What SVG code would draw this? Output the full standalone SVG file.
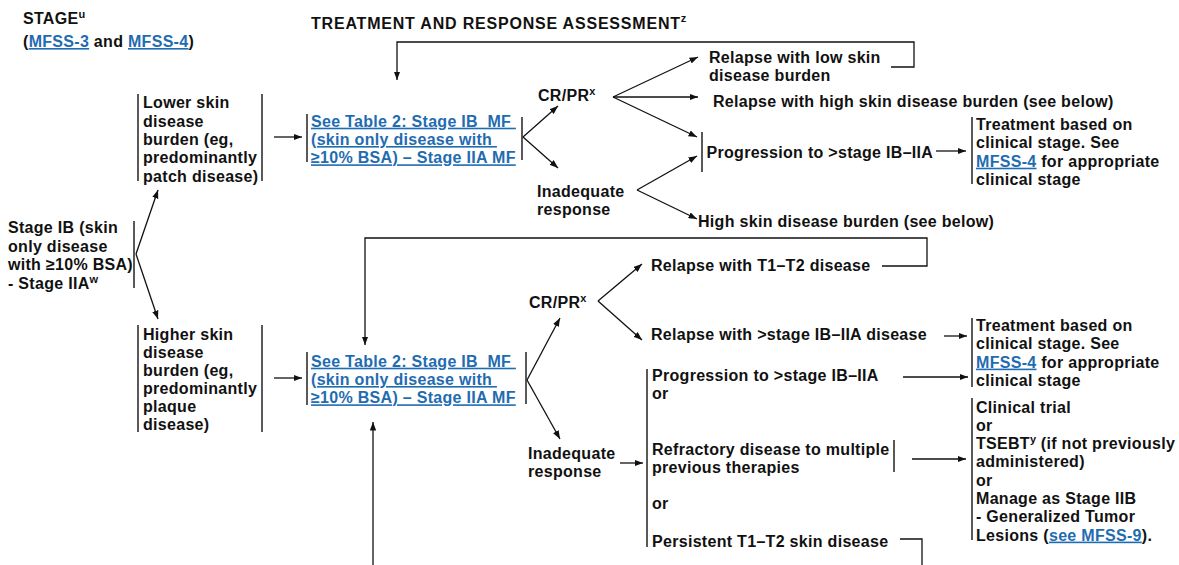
<svg xmlns="http://www.w3.org/2000/svg" width="1179" height="565" viewBox="0 0 1179 565">
<style>
text{font-family:"Liberation Sans",Arial,Helvetica,sans-serif;font-weight:bold;font-size:16px;letter-spacing:0.3px;fill:#111;white-space:pre}
.h{font-size:16px;letter-spacing:0.8px}
.lk{fill:#1f6cb0;text-decoration:underline}
.sup{font-size:11px;letter-spacing:0}
.bar{stroke:#222;stroke-width:1.5;fill:none}
.c{stroke:#111;stroke-width:1.3;fill:none}
</style>
<defs>
<marker id="a" viewBox="0 0 8 6" refX="8" refY="3" markerWidth="8.5" markerHeight="6.5" markerUnits="userSpaceOnUse" orient="auto"><path d="M0,0L8,3L0,6z" fill="#111"/></marker>
</defs>
<rect width="1179" height="565" fill="#fff"/>

<g id="hdr-stage">
<text x="23" y="24">STAGE<tspan class="sup" dy="-6">u</tspan></text>
<text x="23" y="47">(<tspan class="lk">MFSS-3</tspan> and <tspan class="lk">MFSS-4</tspan>)</text>
</g>
<g id="hdr-treatment">
<text class="h" x="311" y="29">TREATMENT AND RESPONSE ASSESSMENT<tspan class="sup" dy="-7">z</tspan></text>
</g>

<g id="n-stage">
<line class="bar" x1="134" y1="221" x2="134" y2="288"/>
<text x="8" y="233">Stage IB (skin</text>
<text x="8" y="251.5">only disease</text>
<text x="8" y="270">with ≥10% BSA)</text>
<text x="8" y="288.5">- Stage IIA<tspan class="sup" dy="-6">w</tspan></text>
</g>

<g id="n-lower">
<line class="bar" x1="138" y1="94" x2="138" y2="181"/>
<line class="bar" x1="262" y1="94" x2="262" y2="181"/>
<text x="143" y="108.3">Lower skin</text>
<text x="143" y="126.6">disease</text>
<text x="143" y="144.9">burden (eg,</text>
<text x="143" y="163.2">predominantly</text>
<text x="143" y="181.5">patch disease)</text>
</g>

<g id="n-higher">
<line class="bar" x1="138" y1="325" x2="138" y2="432"/>
<line class="bar" x1="262" y1="325" x2="262" y2="432"/>
<text x="143" y="340">Higher skin</text>
<text x="143" y="358">disease</text>
<text x="143" y="376">burden (eg,</text>
<text x="143" y="394">predominantly</text>
<text x="143" y="412">plaque</text>
<text x="143" y="430">disease)</text>
</g>

<g id="n-table1">
<line class="bar" x1="307" y1="114" x2="307" y2="162"/>
<line class="bar" x1="522" y1="117" x2="522" y2="160"/>
<text x="311" y="126.7" class="lk">See Table 2: Stage IB  MF </text>
<text x="311" y="145" class="lk">(skin only disease with </text>
<text x="311" y="163.3" class="lk">≥10% BSA) – Stage IIA MF</text>
</g>

<g id="n-table2">
<line class="bar" x1="307" y1="352" x2="307" y2="405"/>
<line class="bar" x1="526" y1="352" x2="526" y2="404"/>
<text x="311" y="366.7" class="lk">See Table 2: Stage IB  MF </text>
<text x="311" y="385" class="lk">(skin only disease with </text>
<text x="311" y="403.3" class="lk">≥10% BSA) – Stage IIA MF</text>
</g>

<g id="n-crpr1"><text x="538" y="101">CR/PR<tspan class="sup" dy="-6">x</tspan></text></g>
<g id="n-inad1">
<text x="537" y="196.7">Inadequate</text>
<text x="537" y="215">response</text>
</g>
<g id="n-relapse-low">
<text x="709" y="63">Relapse with low skin</text>
<text x="709" y="81">disease burden</text>
</g>
<g id="n-relapse-high"><text x="713" y="107.4">Relapse with high skin disease burden (see below)</text></g>
<g id="n-prog1">
<line class="bar" x1="702" y1="132" x2="702" y2="172"/>
<text x="706.5" y="157.5">Progression to &gt;stage IB–IIA</text>
</g>
<g id="n-treat1">
<line class="bar" x1="972" y1="117" x2="972" y2="184"/>
<text x="976" y="130">Treatment based on</text>
<text x="976" y="148.4">clinical stage. See</text>
<text x="976" y="166.7"><tspan class="lk">MFSS-4</tspan> for appropriate</text>
<text x="976" y="185">clinical stage</text>
</g>
<g id="n-high"><text x="698" y="226.7">High skin disease burden (see below)</text></g>

<g id="n-crpr2"><text x="529" y="308">CR/PR<tspan class="sup" dy="-6">x</tspan></text></g>
<g id="n-inad2">
<text x="528" y="458.6">Inadequate</text>
<text x="528" y="477">response</text>
</g>
<g id="n-relapse-t1"><text x="651" y="271">Relapse with T1–T2 disease</text></g>
<g id="n-relapse-stage"><text x="651" y="340">Relapse with &gt;stage IB–IIA disease</text></g>
<g id="n-treat2">
<line class="bar" x1="972" y1="318" x2="972" y2="387"/>
<text x="976" y="331">Treatment based on</text>
<text x="976" y="349.3">clinical stage. See</text>
<text x="976" y="367.6"><tspan class="lk">MFSS-4</tspan> for appropriate</text>
<text x="976" y="386">clinical stage</text>
</g>
<g id="n-options">
<line class="bar" x1="647" y1="369" x2="647" y2="547"/>
<line class="bar" x1="894" y1="440" x2="894" y2="472"/>
<text x="652" y="380.5">Progression to &gt;stage IB–IIA</text>
<text x="652" y="398.5">or</text>
<text x="652" y="455">Refractory disease to multiple</text>
<text x="652" y="473">previous therapies</text>
<text x="652" y="509.3">or</text>
<text x="652" y="546.5">Persistent T1–T2 skin disease</text>
</g>
<g id="n-clinical">
<line class="bar" x1="972" y1="398" x2="972" y2="540"/>
<text x="976" y="412.5">Clinical trial</text>
<text x="976" y="430.8">or</text>
<text x="976" y="449.1">TSEBT<tspan class="sup" dy="-6">y</tspan><tspan dy="6"> (if not previously</tspan></text>
<text x="976" y="467.4">administered)</text>
<text x="976" y="485.7">or</text>
<text x="976" y="504">Manage as Stage IIB</text>
<text x="976" y="522.3">- Generalized Tumor</text>
<text x="976" y="540.6">Lesions (<tspan class="lk">see MFSS-9</tspan>).</text>
</g>

<g id="connectors" class="c">
<path class="c" d="M136,254L158,190" marker-end="url(#a)"/>
<path class="c" d="M136,254L158,319" marker-end="url(#a)"/>
<path class="c" d="M274,137H302" marker-end="url(#a)"/>
<path class="c" d="M274,378H302" marker-end="url(#a)"/>
<path class="c" d="M523,137L558,106" marker-end="url(#a)"/>
<path class="c" d="M523,137L558,168" marker-end="url(#a)"/>
<path class="c" d="M613,97L698,57" marker-end="url(#a)"/>
<path class="c" d="M613,97H698" marker-end="url(#a)"/>
<path class="c" d="M613,97L697,137" marker-end="url(#a)"/>
<path class="c" d="M637,190L697,156" marker-end="url(#a)"/>
<path class="c" d="M637,190L697,219" marker-end="url(#a)"/>
<path class="c" d="M936,151H966" marker-end="url(#a)"/>
<path class="c" d="M891,67H914V42H397V80" marker-end="url(#a)"/>
<path class="c" d="M527,380L560,318" marker-end="url(#a)"/>
<path class="c" d="M527,380L560,439" marker-end="url(#a)"/>
<path class="c" d="M598,301L642,264" marker-end="url(#a)"/>
<path class="c" d="M598,301L642,340" marker-end="url(#a)"/>
<path class="c" d="M944,336H967" marker-end="url(#a)"/>
<path class="c" d="M903,377H968" marker-end="url(#a)"/>
<path class="c" d="M620,463H643" marker-end="url(#a)"/>
<path class="c" d="M912,459H966" marker-end="url(#a)"/>
<path class="c" d="M900,539H922V565"/>
<path class="c" d="M373,565V422" marker-end="url(#a)"/>
<path class="c" d="M882,266H927V238H365V345" marker-end="url(#a)"/>
</g>
</svg>
